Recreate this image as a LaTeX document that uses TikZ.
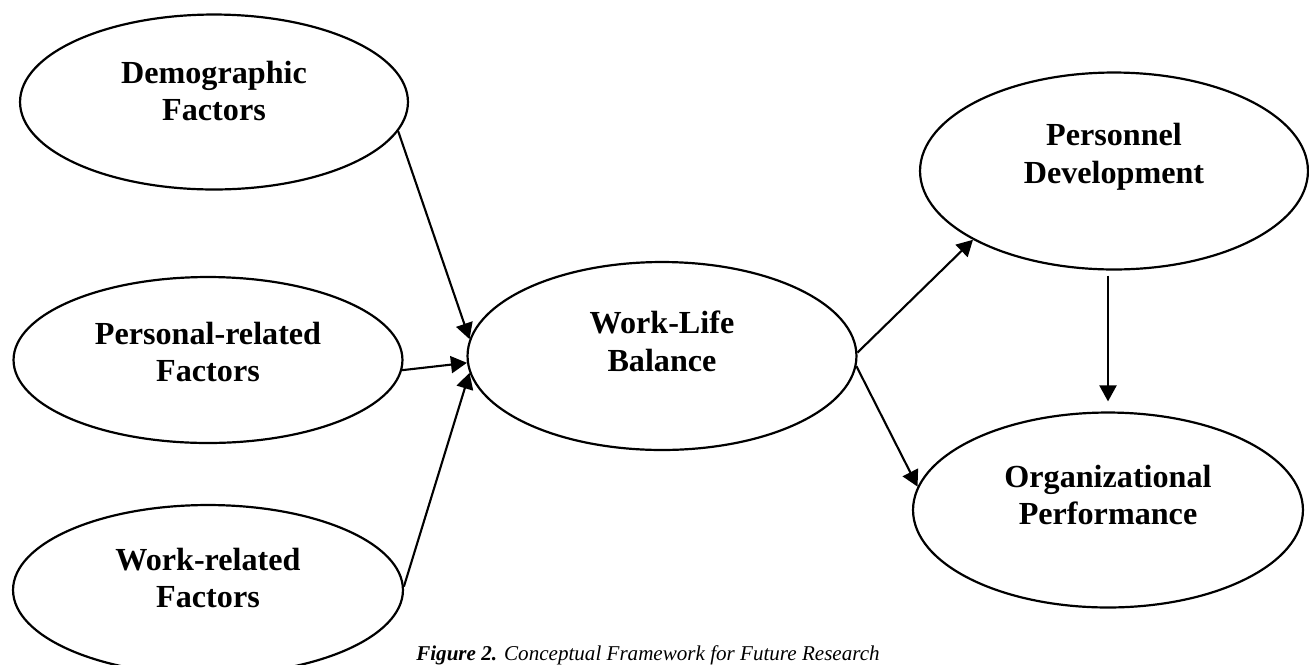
\documentclass[tikz,border=0pt]{standalone}
\usepackage{fontspec}
\setmainfont{Liberation Serif}
\usetikzlibrary{shapes.geometric,arrows.meta}

\begin{document}
\begin{tikzpicture}[
  x=0.02cm, y=-0.02cm,
  factor/.style={ellipse, draw, line width=1.25pt, inner sep=0pt},
  txt/.style={font=\fontsize{18.3}{21.5}\selectfont\bfseries, align=center,
              inner sep=0pt},
  link/.style={line width=1.2pt, -{Triangle[length=0.32cm, width=0.34cm]}},
  capt/.style={font=\fontsize{12}{14}\selectfont\itshape, anchor=base,
               inner sep=0pt}]

\clip (0,0) rectangle (1309,664);

% ========================= left: the three factors ==========================
\node[factor, minimum width=7.76cm, minimum height=3.50cm] (dem) at (214,102) {};
\node[factor, minimum width=7.78cm, minimum height=3.32cm] (pers) at (208,360) {};
\node[factor, minimum width=7.80cm, minimum height=3.40cm] (work) at (208,590) {};
\node[txt] (demt)  at ([yshift=0.22cm]dem.center)  {Demographic\\Factors};
\node[txt] (perst) at ([yshift=0.16cm]pers.center) {Personal-related\\Factors};
\node[txt] (workt) at ([yshift=0.24cm]work.center) {Work-related\\Factors};

% ============================ middle: the balance ===========================
\node[factor, minimum width=7.78cm, minimum height=3.76cm] (wlb) at (662,356) {};
\node[txt] (wlbt) at ([yshift=0.30cm]wlb.center) {Work-Life\\Balance};

% =========================== right: the outcomes ============================
\node[factor, minimum width=7.76cm, minimum height=3.94cm] (pdev) at (1114,171) {};
\node[factor, minimum width=7.80cm, minimum height=3.90cm] (orgp) at (1108,510) {};
\node[txt] (pdevt) at ([yshift=0.28cm]pdev.center) {Personnel\\Development};
\node[txt] (orgpt) at ([yshift=0.30cm]orgp.center) {Organizational\\Performance};

% ================================ the links =================================
\draw[link] (dem.-9)   -- (wlb.175);
\draw[link] (pers.-3)  -- (wlb.182);
\draw[link] (work.1)   -- (wlb.185);
\draw[link] (wlb.1)    -- (pdev.206);
\draw[link] (wlb.-3)   -- (orgp.173);
\draw[link, shorten <=0.1cm, shorten >=0.2cm] (orgp.north |- pdev.south) -- (orgp.north);

% ================================= caption ==================================
\node[capt] (cap) at (648,660)
  {{\bfseries Figure 2.} Conceptual Framework for Future Research};

\end{tikzpicture}
\end{document}
